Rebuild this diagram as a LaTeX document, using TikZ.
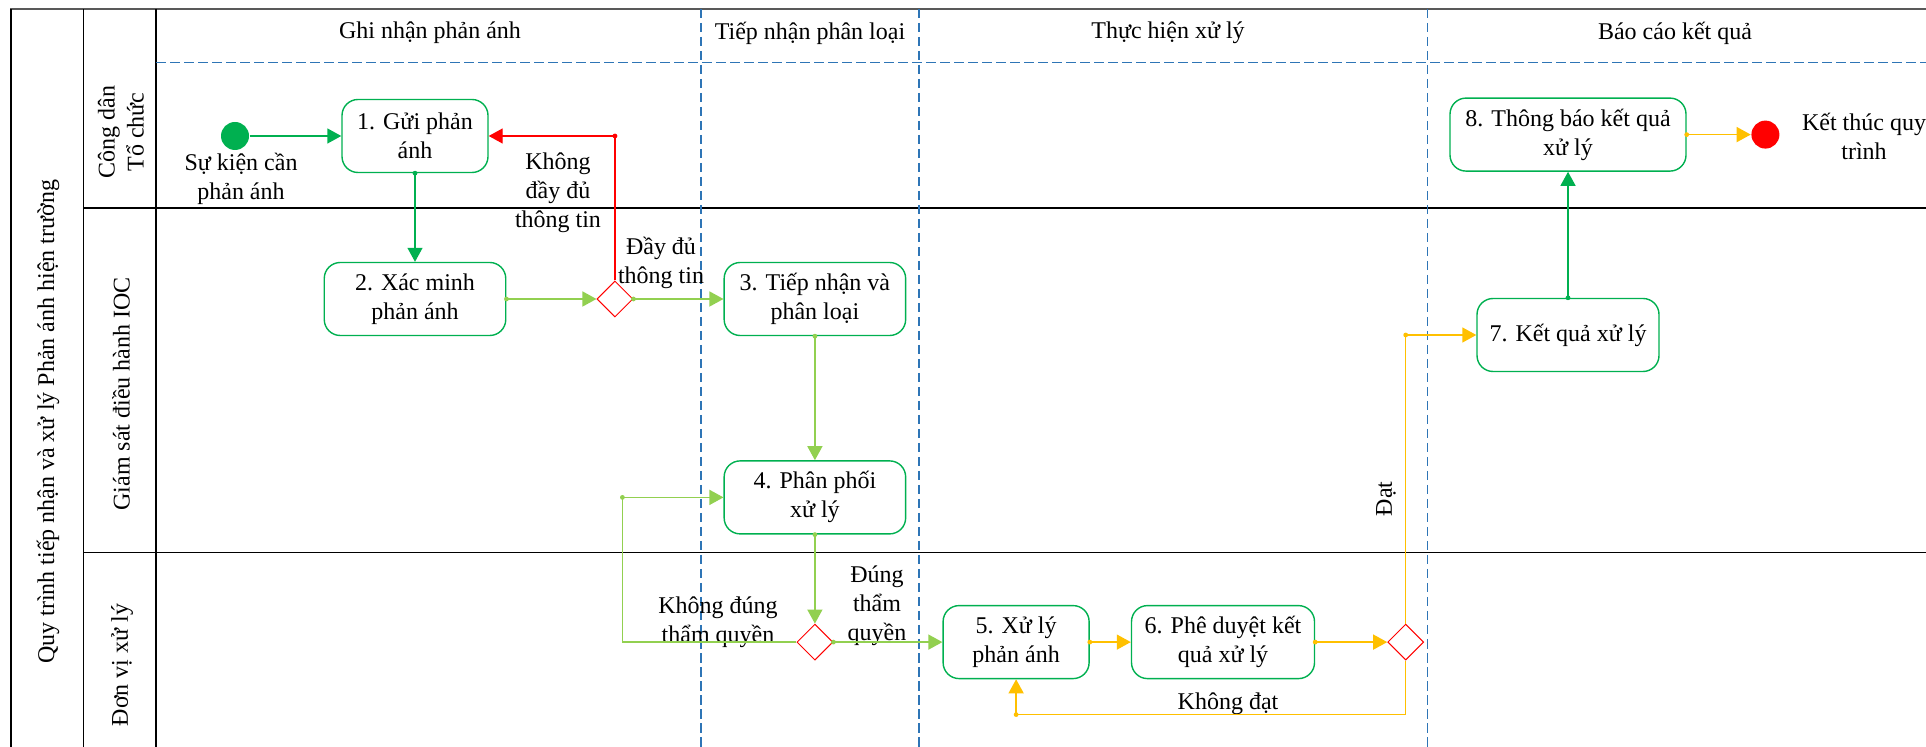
\documentclass[tikz,border=0pt]{standalone}
\usepackage{fontspec}
\setmainfont{Liberation Serif}
\usetikzlibrary{positioning, arrows.meta, shapes.geometric}

\definecolor{dkgreen}{RGB}{0,176,80}
\definecolor{ltgreen}{RGB}{146,208,80}
\definecolor{amber}{RGB}{255,192,0}
\definecolor{laneblue}{RGB}{46,117,182}
\definecolor{framegray}{RGB}{89,89,89}

\begin{document}
\begin{tikzpicture}[x=0.5pt, y=-0.5pt, ->, >={Triangle[length=7pt,width=7.5pt]},
                  line width=0.7pt, node distance=81.5pt,
                  font=\fontsize{12}{14.5}\selectfont,
                  task/.style={rectangle, rounded corners=8pt, draw=dkgreen, fill=white,
                    align=center, minimum height=36.5pt, inner sep=2pt},
                  decision/.style={diamond, draw=red, fill=white, line width=0.5pt,
                    minimum width=18pt, minimum height=18pt, inner sep=0pt},
                  joint/.style={circle, fill, inner sep=0pt, minimum size=2.4pt},
                  lbl/.style={align=center, inner sep=0pt},
                  lane/.style={rotate=90, align=center},
                  phaseline/.style={-, laneblue, line width=0.6pt, dash pattern=on 4.75pt off 2.25pt}]

                  \useasboundingbox (0,0) rectangle (1926,747);

                  % Dibujamos el marco del proceso y las calles.
                  \draw[-, framegray, line width=1pt] (10,9) -- (1926,9);
                  \draw[-, black, line width=0.6pt] (11,9) -- (11,747) (83.5,9) -- (83.5,747)
                  (156,9) -- (156,747);
                  \draw[-, black, line width=0.6pt] (83.5,208) -- (1926,208) (83.5,552.5) -- (1926,552.5);
                  \draw[phaseline] (156,62.6) -- (1926,62.6);
                  \foreach \x in {701,919,1427.5}
                    \draw[phaseline] (\x,9) -- (\x,747);

                  % Nombres del proceso, de las calles y de las fases.
                  \node[lane] (pool) at (48,422) {Quy trình tiếp nhận và xử lý Phản ánh hiện trường};
                  \node[lane] (lane1) at (121,132) {Công dân\\Tổ chức};
                  \node[lane] (lane2) at (121,394) {Giám sát điều hành IOC};
                  \node[lane] (lane3) at (122,665) {Đơn vị xử lý};
                  \node (ph1) at (430,33) {Ghi nhận phản ánh};
                  \node (ph2) at (810,33) {Tiếp nhận phân loại};
                  \node (ph3) at (1168,33) {Thực hiện xử lý};
                  \node (ph4) at (1675,33) {Báo cáo kết quả};

                  % Asignamos los eventos, las tareas y las decisiones.
                  \node[circle, fill=dkgreen, minimum size=14pt, inner sep=0pt] (start) at (235,136) {};
                  \node[lbl] (lstart) at (241,179) {Sự kiện cần\\phản ánh};
                  \node[task, minimum width=73pt] (n1) at (415,136) {1. Gửi phản\\ánh};
                  \node[task, minimum width=90.75pt, below of=n1] (n2) {2. Xác minh\\phản ánh};
                  \node[decision, right=45pt of n2] (d1) {};
                  \node[task, minimum width=90.75pt, right=45pt of d1] (n3) {3. Tiếp nhận và\\phân loại};
                  \node[task, minimum width=90.75pt, below=62pt of n3] (n4) {4. Phân phối\\xử lý};
                  \node[decision, below=44.5pt of n4] (d2) {};
                  \node[task, minimum width=73pt, right=54.5pt of d2] (n5) {5. Xử lý\\phản ánh};
                  \node[task, minimum width=91.5pt, right=20.5pt of n5] (n6) {6. Phê duyệt kết\\quả xử lý};
                  \node[decision, right=36pt of n6] (d3) {};
                  \node[task, minimum width=91pt] (n7) at (1568,335) {7. Kết quả xử lý};
                  \node[task, minimum width=118pt, above=63pt of n7] (n8) {8. Thông báo kết quả\\xử lý};
                  \node[circle, fill=red, minimum size=14pt, inner sep=0pt, right=32pt of n8] (end) {};
                  \node[lbl] (lend) at (1864,136) {Kết thúc quy\\trình};

                  % Etiquetas de las salidas de cada decisión.
                  \node[lbl] (lnofull) at (558,193) {Không\\đầy đủ\\thông tin};
                  \node[lbl] (lfull) at (661,263) {Đầy đủ\\thông tin};
                  \node[lbl] (lwrong) at (718,622) {Không đúng\\thẩm quyền};
                  \node[lbl] (lright) at (877,606) {Đúng\\thẩm\\quyền};
                  \node[lbl, rotate=90] (lpass) at (1386,499) {Đạt};
                  \node[lbl] (lfail) at (1228,704) {Không đạt};

                  % Dibujamos las transiciones del proceso.
                  \draw[dkgreen] (start) -- (n1);
                  \draw[dkgreen] (n1.south) node[joint]{} -- (n2);
                  \draw[ltgreen] (n2.east) node[joint]{} -- (d1);
                  \draw[red] (d1.north) |- node[joint, pos=0.5]{} (n1.east);
                  \draw[ltgreen] (d1.east) node[joint]{} -- (n3);
                  \draw[ltgreen] (n3.south) node[joint]{} -- (n4);
                  \draw[ltgreen] (n4.south) node[joint]{} -- (d2);
                  \draw[ltgreen] (d2.west) -- ++(-174,0) |- node[joint, pos=0.5]{} (n4.west);
                  \draw[ltgreen] (d2.east) node[joint]{} -- (n5);
                  \draw[amber] (n5.east) node[joint]{} -- (n6);
                  \draw[amber] (n6.east) node[joint]{} -- (d3);
                  \draw[amber] (d3.north) |- node[joint, pos=0.5]{} (n7.west);
                  \draw[amber] (d3.south) -- ++(0,54) -| node[joint, pos=0.5]{} (n5.south);
                  \draw[dkgreen] (n7.north) node[joint]{} -- (n8);
                  \draw[amber] (n8.east) node[joint]{} -- (end);

                \end{tikzpicture}
\end{document}
